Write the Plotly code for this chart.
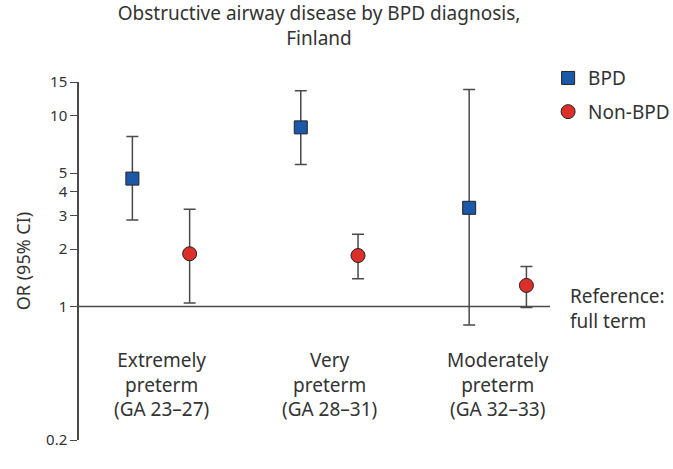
import numpy as np
import plotly.graph_objs as go

# Groups (gestational age) and odds ratios
groups = ['Extremely<br>preterm<br>(GA 23–27)', 'Very<br>preterm<br>(GA 28–31)', 'Moderately<br>preterm<br>(GA 32–33)']
bpd_or = [4.68, 8.68, 3.29]
bpd_low = [2.84, 5.54, 0.80]
bpd_high = [7.77, 13.5, 13.7]
non_or = [1.89, 1.85, 1.29]
non_low = [1.045, 1.40, 0.99]
non_high = [3.23, 2.39, 1.62]
y_ticks = [0.2, 1, 2, 3, 4, 5, 10, 15]

font = 'Noto Sans'
grey = '#4a4a4a'
txt = '#333333'
offset = 0.17
xs = np.arange(len(groups))

def err(vals, low, high):
    return dict(type='data', symmetric=False,
                array=[h - v for v, h in zip(vals, high)],
                arrayminus=[v - l for v, l in zip(vals, low)],
                color=grey, thickness=1.5, width=6)

trace_bpd = go.Scatter(
    x=xs - offset, y=bpd_or, mode='markers', name='BPD', legendgroup='a',
    marker=dict(symbol='square', size=13, color='#1c58a8', line=dict(color='#222', width=1)),
    error_y=err(bpd_or, bpd_low, bpd_high)
)
trace_non = go.Scatter(
    x=xs + offset, y=non_or, mode='markers', name='Non-BPD', legendgroup='b',
    marker=dict(symbol='circle', size=14, color='#dc2f2a', line=dict(color='#222', width=1)),
    error_y=err(non_or, non_low, non_high)
)

fig = go.Figure(data=[trace_bpd, trace_non])

# group labels below the reference line
for i, g in enumerate(groups):
    fig.add_annotation(x=i, y=np.log10(0.39), text=g, showarrow=False,
                       font=dict(size=19, color=txt), align='center')

fig.add_annotation(x=1.0, xref='paper', xanchor='left', xshift=18, y=0, yshift=-2,
                   text='Reference:<br>full term', showarrow=False, align='left',
                   font=dict(size=19, color=txt))

# reference line at OR = 1
fig.add_shape(type='line', xref='paper', x0=0, x1=1, y0=1, y1=1, line=dict(color=grey, width=1.5))

fig.update_layout(
    width=673, height=469,
    margin=dict(l=79, r=123, t=82, b=29, autoexpand=False),
    paper_bgcolor='white', plot_bgcolor='white',
    font=dict(family=font, color=txt),
    title=dict(text='Obstructive airway disease by BPD diagnosis,<br>Finland',
               x=319 / 673, xanchor='center', yref='container', y=1 - 20 / 469, yanchor='top',
               font=dict(size=19)),
    xaxis=dict(range=[-0.487, 2.31], visible=False),
    yaxis=dict(type='log', range=[np.log10(0.2), np.log10(15)],
               tickvals=y_ticks, ticktext=[str(t) for t in y_ticks],
               ticks='outside', ticklen=7, tickcolor=grey, showline=True, linecolor=grey,
               linewidth=1.5, showgrid=False, zeroline=False, tickfont=dict(size=15),
               title=dict(text='OR (95% CI)', font=dict(size=18), standoff=11)),
    legend=dict(x=0.996, xanchor='left', y=1.064, yanchor='top', font=dict(size=19),
                bgcolor='rgba(0,0,0,0)', traceorder='grouped', tracegroupgap=6),
    showlegend=True
)

# drop the page's default 8px body margin so the figure sits at the corner
fig.write_html("out.html", config={'displayModeBar': False},
               post_script="document.body.style.margin='0';")
